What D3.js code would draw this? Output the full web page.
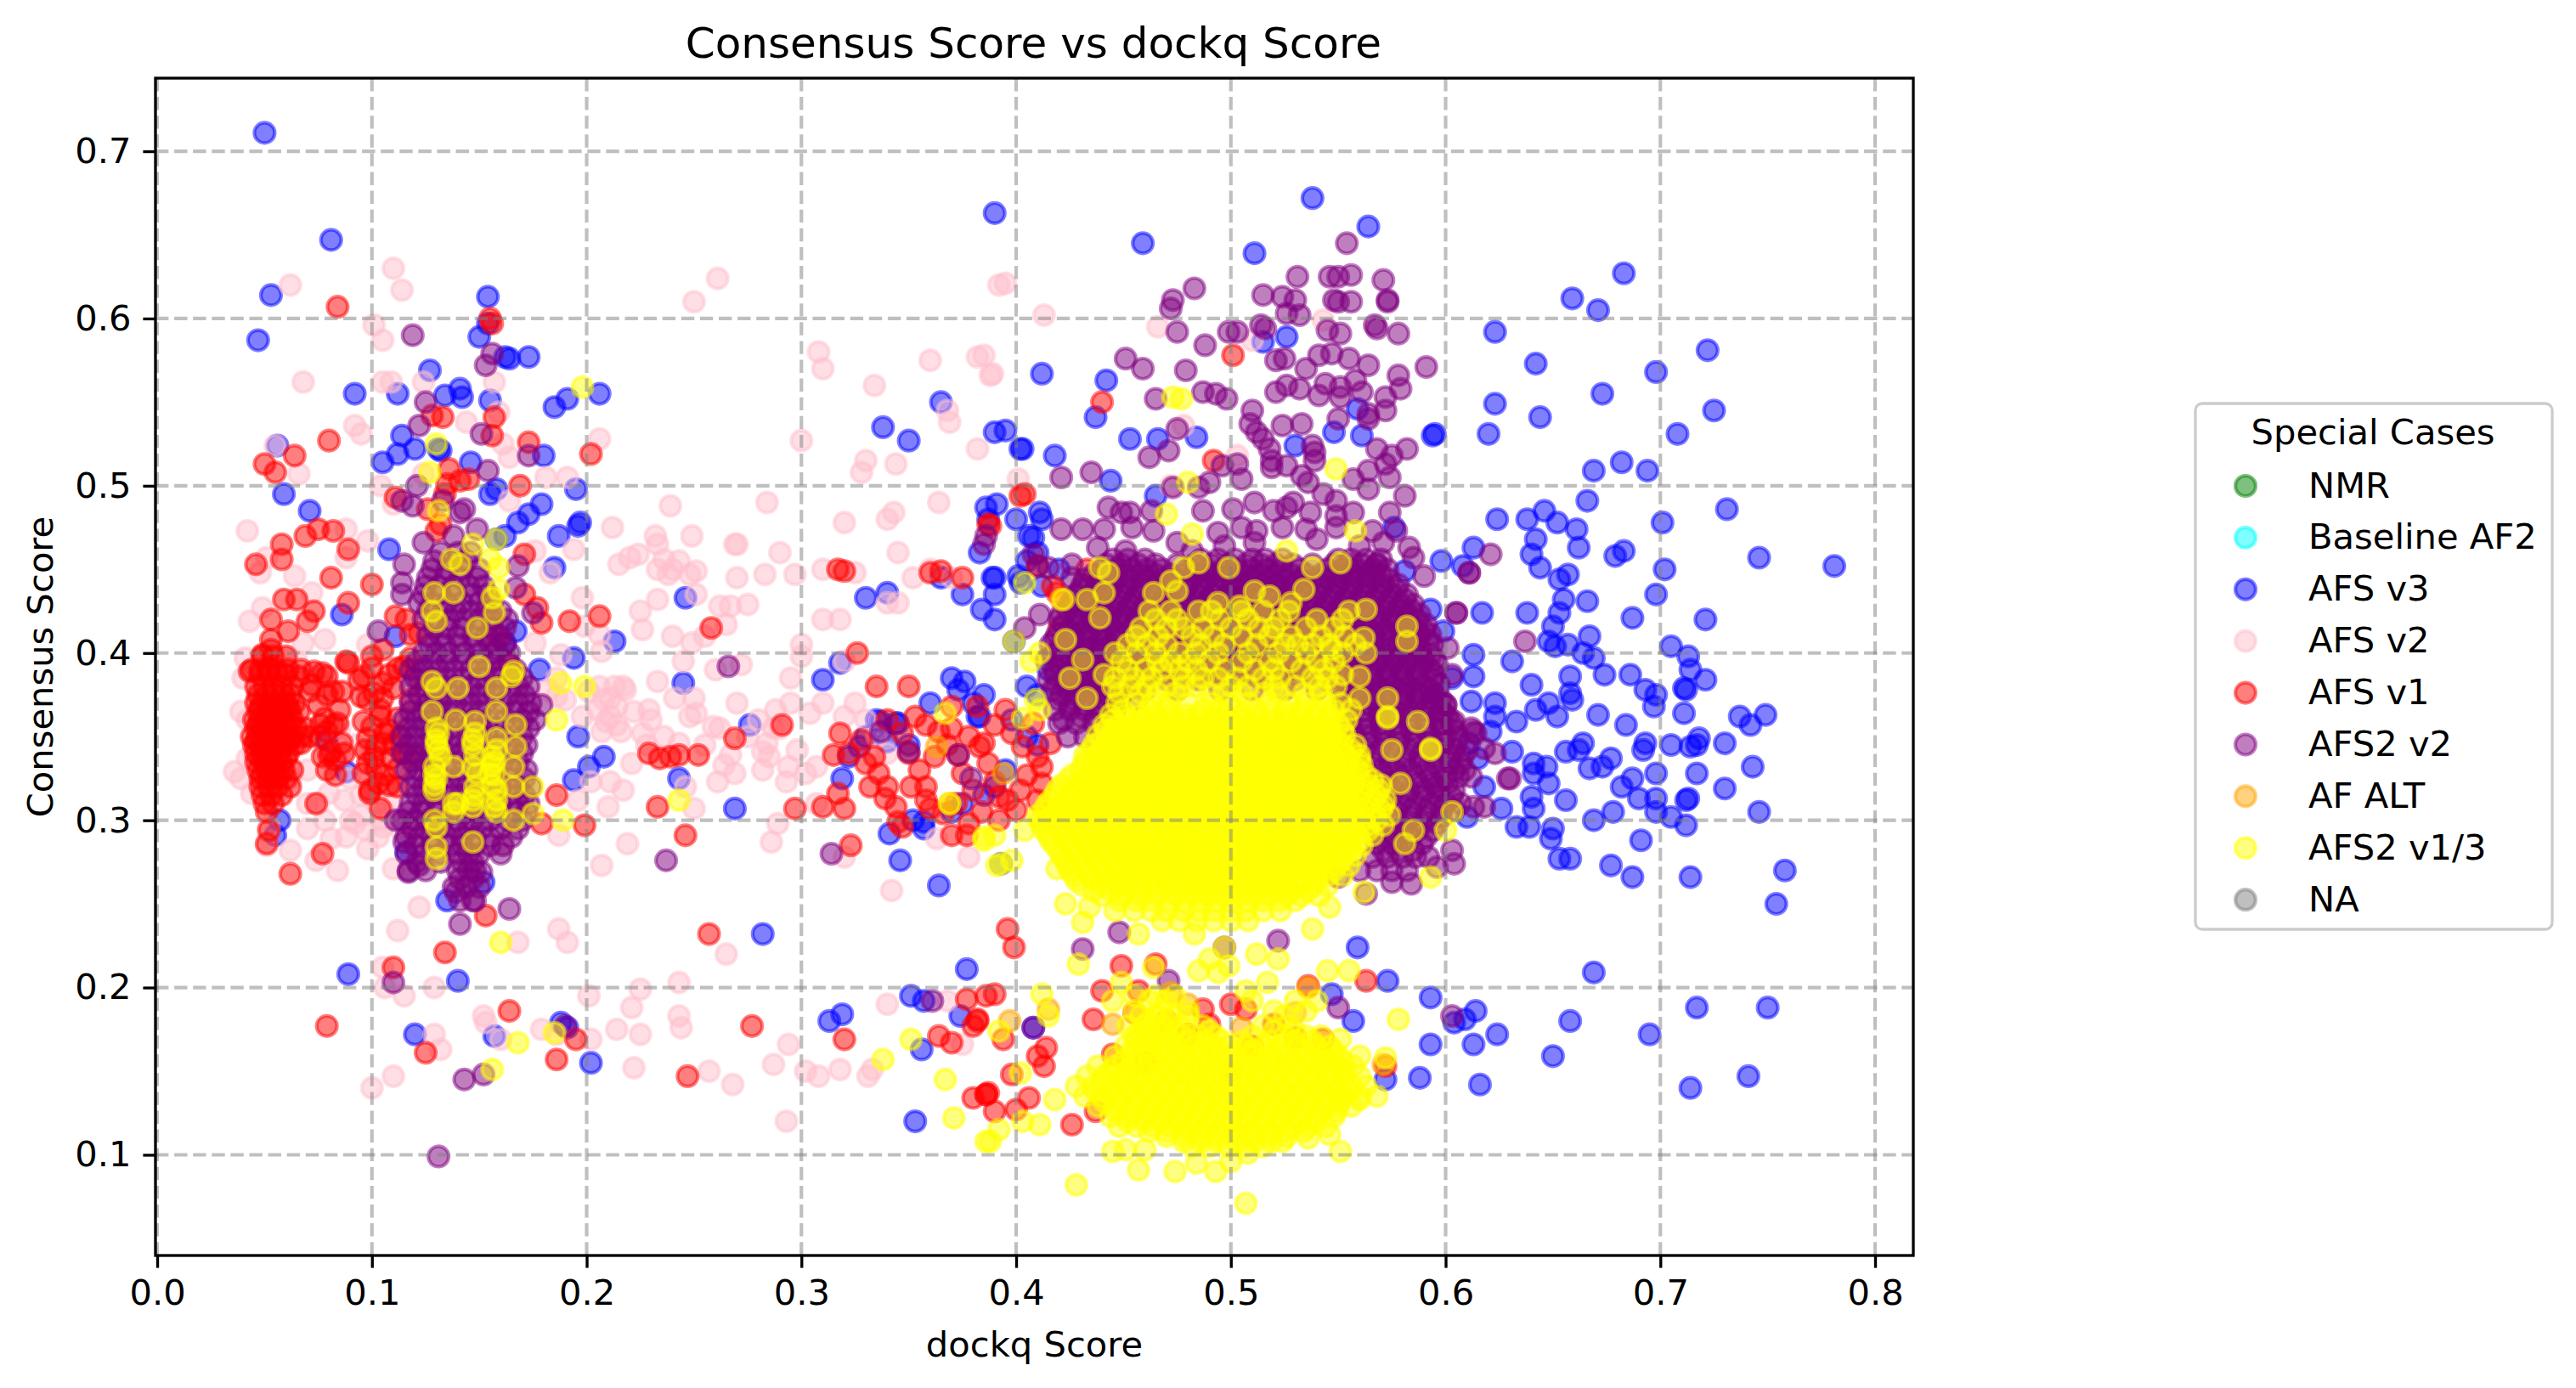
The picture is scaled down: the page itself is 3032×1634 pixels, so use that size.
<!DOCTYPE html>
<html><head><meta charset="utf-8">
<script src="https://cdn.jsdelivr.net/npm/d3@7/dist/d3.min.js"></script>
<style>html,body{margin:0;background:#fff}svg{display:block;font-family:"DejaVu Sans",sans-serif}</style>
</head><body><svg id="c" width="3032" height="1634"></svg>
<script>
// values are in thousandths. *Pts: flat x,y,x,y... ; *Rows: [y, x, x, x...] for the dense blobs
const categories = ["NMR","Baseline AF2","AFS v3","AFS v2","AFS v1","AFS2 v2","AF ALT","AFS2 v1/3","NA"];
const xTicks = [0,.1,.2,.3,.4,.5,.6,.7,.8];
const yTicks = [.1,.2,.3,.4,.5,.6,.7];
const nmrPts = [], baselinePts = [], naPts = [];
const afsV3Pts = [50,711,81,647,53,614,47,587,154,613,150,589,154,597,162,577,164,576,173,577,127,569,92,555,112,555,134,554,141,558,142,553,155,551,185,547,191,552,206,555,56,524,132,521,146,514,105,514,112,519,120,522,114,530,158,498,155,495,180,518,195,498,59,495,71,485,179,489,173,483,168,478,187,470,196,476,197,478,162,470,158,468,131,522,108,462,185,451,86,423,246,433,167,413,162,406,213,407,194,397,178,390,245,382,111,410,
57,300,55,291,89,208,140,204,120,172,157,171,188,179,191,176,202,155,135,252,152,263,116,281,282,232,377,211,351,195,357,192,374,183,313,180,319,184,356,163,353,120,364,261,346,276,341,292,352,300,357,299,243,325,269,307,196,350,194,324,201,332,208,338,276,357,337,359,344,358,322,338,327,344,319,325,383,362,88,329,79,348,
390,663,459,645,511,639,538,672,564,655,683,627,659,612,671,605,623,592,515,586,526,589,722,581,642,573,698,568,412,567,442,563,673,555,623,549,644,541,725,545,559,546,437,541,395,533,620,531,595,531,594,530,708,531,548,532,561,530,484,529,466,528,453,528,530,524,403,522,418,518,444,503,669,509,682,514,694,509,666,491,731,486,624,480,638,480,646,485,652,478,661,474,701,478,642,468,391,489,411,484,400,480,465,494,408,469,576,475,613,463,598,455,640,459,662,463,683,461,679,458,746,457,781,452,644,451,581,449,608,452,702,450,657,447,653,444,698,435,666,431,655,432,389,445,401,446,687,421,638,424,653,424,593,426,617,424,721,420,650,416,599,413,667,410,648,407,651,404,657,405,705,404,713,398,664,400,669,397,631,395,613,399,603,385,613,386,714,390,658,386,674,387,640,381,721,384,686,387,693,378,711,379,712,378,698,375,658,376,659,372,596,375,612,371,623,370,648,370,671,363,697,368,711,364,652,362,684,357,737,362,749,363,742,357,633,359,642,366,
664,346,662,342,656,341,667,331,673,332,677,337,692,342,693,346,705,345,714,344,717,345,718,349,730,346,743,332,717,328,698,328,687,325,682,320,730,319,690,313,698,313,712,312,713,313,678,305,669,300,698,305,705,302,712,297,746,305,691,288,647,332,648,322,656,312,641,334,641,328,640,314,641,307,633,296,639,296,650,295,649,289,653,277,658,277,677,273,687,266,714,266,758,270,754,250,626,307,618,320,631,341,623,362,611,346,621,353,615,337,610,302,669,209,573,204,593,194,614,186,609,181,604,179,624,172,658,180,695,172,717,188,750,188,593,166,613,166,650,159,588,146,616,142,741,147,714,140,559,224,547,196,557,180,572,145,408,176,
310,384,318,394,330,350,335,360,340,347,345,358,350,345,360,370,370,385,373,378,376,383,380,370,382,362,385,375,390,420,390,435,375,435,365,445,387,480,383,460,384,426,357,295,370,305,375,310,385,315,390,320,395,330,398,360,405,380,410,375,415,390,405,350,410,345,412,440,410,460,420,450,390,445,330,433,340,436,338,535,350,527,365,550,390,532,386,487,402,522,412,480,402,442,406,470,405,455,399,407,425,385,393,274];
const afsV2Pts = [62,620,110,630,114,617,101,596,105,587,261,624,250,610,68,562,105,562,109,562,124,562,157,562,92,536,95,531,144,538,159,544,206,528,66,507,104,500,124,507,181,505,191,505,164,517,161,525,55,524,239,488,212,475,249,470,42,473,88,474,98,467,110,489,269,465,233,465,224,459,236,456,215,453,233,450,248,447,251,449,238,447,194,462,176,461,183,448,51,457,48,448,64,446,88,457,198,433,233,432,251,435,267,428,164,491,49,427,43,419,72,436,78,408,226,414,199,416,206,411,176,406,207,401,249,406,188,399,68,406,98,405,41,397,60,397,233,383,206,380,213,380,217,380,201,377,186,374,211,373,241,373,250,373,
39,365,36,329,42,337,39,325,44,316,70,310,80,316,87,312,92,298,97,294,103,290,95,303,105,296,81,289,51,285,62,282,74,276,84,270,110,271,52,296,122,248,112,234,187,235,191,227,168,227,265,220,105,212,106,200,115,195,129,200,201,195,225,199,243,203,221,188,243,183,244,176,214,175,225,172,152,183,153,179,129,172,132,163,160,169,179,175,186,172,202,169,222,152,110,147,100,140,257,150,268,142,287,154,294,166,302,150,308,147,318,151,331,147,333,151,340,190,293,120,368,192,375,166,342,258,378,278,320,278,286,287,289,298,363,289,207,273,219,286,187,291,161,286,250,307,246,320,210,308,217,318,196,312,202,323,211,323,221,334,209,359,211,362,214,357,207,353,216,353,229,366,243,346,251,364,262,355,264,333,267,339,269,328,261,323,282,341,284,346,282,330,294,332,293,323,302,328,307,332,307,310,320,362,304,364,287,355,259,356,288,366,
360,575,382,577,388,566,392,620,413,602,310,570,308,580,334,560,368,545,369,538,330,515,344,513,328,508,300,527,364,490,340,480,320,478,343,484,345,460,340,430,345,430,370,445,360,450,352,445,284,490,270,465,283,447,270,445,297,447,290,460,275,429,310,450,325,448,300,405,295,385,300,398,272,393,262,428,265,417,310,420,318,420,320,395,325,370,330,360,335,350,340,340,240,450,243,455,232,470,220,457,255,410,225,425,240,410,245,395,260,390,270,370,280,360,290,355,295,370,310,370,
46,372,40,385,42,360,45,340,50,320,85,340,90,325,75,310,100,320,110,310,118,300,102,310,108,320,90,300,395,621,466,595,543,599,385,578,389,567,382,522,478,536,401,504,472,500,503,518,510,587,
208,372,214,368,222,365,230,360,205,366,198,362,190,372,218,378,226,352,236,350,228,345,186,385,182,378,275,350,285,338,248,362,255,345,298,342,65,395,72,388,80,380,88,395,98,385,112,390,70,330,85,355,92,345,100,340,95,315,106,305,113,295,88,290,98,283,104,300,62,325,70,295,78,300];
const afsV1Pts = [84,607,155,600,156,597,133,541,128,542,157,541,156,530,173,526,80,527,202,519,64,518,50,513,55,508,136,510,145,504,141,503,135,501,169,500,111,493,75,474,69,470,82,473,89,462,58,465,58,456,46,453,81,445,100,441,171,459,171,435,177,427,179,418,192,419,206,422,258,415,59,432,65,432,89,430,73,425,70,419,61,413,53,420,53,408,53,402,49,399,111,422,116,420,118,411,122,412,158,410,164,393,105,402,100,398,89,394,43,389,52,391,66,386,73,389,79,386,96,386,105,382,112,391,118,397,71,377,79,375,86,377,95,374,105,373,134,495,126,486,132,477,130,473,
52,294,51,286,62,268,77,280,74,310,99,316,104,307,186,315,179,298,199,297,233,308,246,291,229,340,234,337,239,338,243,339,252,339,269,349,291,357,297,307,310,308,320,307,317,316,315,339,323,285,336,328,332,320,339,313,345,299,347,296,351,320,358,320,360,307,370,291,377,291,257,232,134,221,153,243,110,212,125,161,164,186,79,177,195,169,186,157,247,147,277,177,320,169,377,193,380,177,364,171,370,167,382,181,386,195,380,134,386,136,
76,357,82,357,81,341,77,338,67,346,62,348,396,235,399,224,449,213,465,214,440,198,563,204,390,196,382,180,394,169,414,164,410,159,413,153,398,148,386,136,387,137,406,134,390,126,400,127,426,118,436,181,572,153,437,126,457,198,487,187,536,201,507,187,543,169,490,178,440,550,501,578,492,515,404,495,387,477,419,436,410,452,433,450,388,476,402,494,417,440,420,415,360,448,350,380,335,380,326,400,317,450,320,449,365,449,375,445,322,340,328,348,318,352,334,338,340,360,
353,362,358,357,364,353,370,355,378,350,383,344,373,339,387,334,390,323,392,314,396,312,385,346,390,357,398,352,403,344,410,338,405,327,412,332,402,318,410,312,368,345,362,338,355,330,350,340,347,352,375,328,380,318,372,310,366,304,358,312,384,305,392,300,400,306,378,298,395,366,382,368,370,368,412,322,416,346,408,358,340,320,344,308,330,334,
77,388,88,395,100,391,108,387,115,392,122,384,72,381,82,377,94,384,101,376,110,379,118,372,75,369,85,366,98,372,104,366,112,361,78,361,84,358,96,359,100,356,104,362,108,354,113,350,79,353,98,349,102,344,106,352,110,345,76,350,86,346,97,342,101,338,105,346,109,337,115,340,80,339,83,336,87,340,98,334,102,331,106,327,112,331,120,338,79,330,83,327,96,328,103,322,108,321,112,320,99,318,
455,185,470,180,480,172,500,190,520,178,530,170,445,160,460,155,510,165,500,150];
const afsV1Rows = [[398,49,54,60],[390,44,48,52,56,61,67],[387,48,52,56,60],[380,46,50,54,58,63],[375,47,51,55,59,62],[370,46,49,53,56,60,64],[367,48,52,57,61],[365,47,51,55,58,62,66],[360,45,48,52,55,59,63],[357,47,50,54,58,62],[355,46,49,53,56,60,65,69],[350,44,47,51,54,58,62,67,71],[347,46,50,53,57,61],[345,45,48,52,55,59,64],[340,46,49,53,57,61],[337,48,52,56,60],[335,46,50,54,58],[330,47,51,55,59,63],[327,49,53,57],[325,48,52,56,60],[320,48,52,56,62],[315,49,53,58],[310,50,54],[305,51]];
const afs2V2Pts = [554,645,531,625,546,625,550,625,556,626,571,623,483,618,473,611,472,606,515,614,524,613,530,611,548,611,550,610,556,610,573,611,573,610,526,603,532,602,475,592,499,592,503,592,514,596,516,594,545,593,551,591,567,596,568,594,578,591,488,584,451,576,459,570,479,569,521,575,525,576,541,578,547,579,555,576,564,572,535,570,591,571,578,566,579,558,487,556,493,555,498,552,465,552,521,556,526,560,532,558,544,561,551,559,558,563,561,556,541,554,551,553,572,553,572,545,510,545,509,537,550,540,564,540,564,543,524,536,533,537,475,534,512,532,515,528,518,522,519,515,471,521,462,517,435,508,421,505,538,524,539,520,539,515,568,522,582,522,575,518,572,513,574,505,564,509,496,512,503,513,505,504,519,511,526,512,533,506,536,502,557,504,490,502,485,499,473,499,564,498,581,494,543,495,549,491,529,490,511,490,501,486,443,487,449,484,453,484,487,485,463,485,520,485,526,487,574,484,557,484,549,482,537,484,421,474,431,474,441,474,454,475,464,473,494,472,505,475,512,473,524,475,535,474,549,475,566,473,577,473,438,463,451,461,475,466,482,461,497,464,511,466,540,468,560,464,571,466,583,463,585,457,408,459,415,451,410,452,426,453,426,445,590,446,611,448,621,459,568,453,
596,272,604,274,584,262,575,263,563,256,550,266,448,233,431,223,522,228,497,224,550,188,471,204,603,183,408,176,630,325,623,340,614,352,618,308,596,320,637,407,611,448,605,424,613,353,618,343,629,325,613,308,603,282,601,403,605,424,603,387,600,369,604,359,599,364,612,355,411,423,422,360,386,470,385,465,404,415,
119,590,156,579,153,572,125,550,122,536,151,531,173,518,154,509,121,500,114,491,119,488,133,491,143,486,141,484,149,474,138,470,124,466,115,453,114,442,114,435,168,452,167,439,175,424,103,413,158,402,266,392,173,380,179,369,111,300,115,287,122,273,117,269,139,257,147,252,141,238,164,247,151,269,161,285,143,145,152,148,190,177,237,276,314,280,110,203,131,99,361,192,350,341,337,353,379,325,373,339];
const afs2V2Rows = [[456,445,452,460,486,494,502,510,516,524,550,556,563,570],[450,440,447,454,461,468,480,488,496,503,510,517,524,532,545,552,559,566,573],[444,432,440,447,454,461,468,475,482,489,497,504,511,518,525,532,539,546,553,560,567,574],[438,430,437,444,451,458,465,472,479,486,493,500,507,514,521,528,535,542,549,556,563,570,577],[432,426,434,441,448,455,462,469,476,483,490,497,504,511,518,525,532,539,546,553,560,567,574,581],[426,424,431,438,445,452,459,466,473,480,487,494,501,508,515,522,529,536,543,550,557,564,571,578,584],[420,420,428,435,442,449,456,463,470,477,484,491,498,505,512,519,526,533,540,547,554,561,568,575,582,587],[414,425,432,439,446,453,460,467,474,481,488,495,502,509,516,523,530,537,544,551,558,565,572,579,586,590],[408,418,426,433,440,447,454,461,468,475,482,489,496,503,510,517,524,531,538,545,552,559,566,573,580,587,592],[402,420,427,434,441,448,455,462,469,476,483,490,497,504,511,518,525,532,539,546,553,560,567,574,581,588],[396,414,422,429,436,443,450,457,464,471,478,485,492,499,506,513,520,527,534,541,548,555,562,569,576,583,590,595],[390,418,425,432,439,446,453,460,467,474,481,488,495,502,509,516,523,530,537,544,551,558,565,572,579,586,593],[384,415,423,430,437,444,451,458,470,485,500,515,530,545,552,559,566,573,580,587,594],[378,417,424,431,438,445,452,460,475,495,510,525,540,551,558,565,572,579,586,593],[372,420,427,434,441,448,456,552,559,566,573,580,587,594,598],[366,418,425,432,439,446,555,562,569,576,583,590,597],[358,420,428,436,556,563,570,577,584,591,598,603],[350,424,432,558,565,572,579,586,593,600,606],[342,555,562,569,576,583,590,597,604,610],[334,560,567,574,581,588,595,602,607],[326,565,572,579,586,593,600,606,612],[318,562,569,576,583,590,597,604],[310,565,572,579,586,593,600,607],[302,570,577,584,591,598],[294,566,573,580,587,594],[286,568,575,582,589],[278,566,573,580,586,592],[270,560,568,575,582],
[453,442,449,457,465,475,483,491,499,507,514,521,529,538,548,554,561,568],[447,436,444,451,458,465,472,478,485,492,500,507,514,521,528,535,542,549,556,563,570],[441,431,438,445,452,459,466,473,480,487,494,501,508,515,522,529,536,543,550,557,564,571,578],[435,428,435,442,449,456,463,470,477,484,491,498,505,512,519,526,533,540,547,554,561,568,575,582],[429,425,432,439,446,453,460,467,474,481,488,495,502,509,516,523,530,537,544,551,558,565,572,579,585],[423,421,428,435,442,449,456,463,470,477,484,491,498,505,512,519,526,533,540,547,554,561,568,575,582,588],[417,422,430,437,444,451,458,465,472,479,486,493,500,507,514,521,528,535,542,549,556,563,570,577,584,591],[411,419,427,434,441,448,455,462,469,476,483,490,497,504,511,518,525,532,539,546,553,560,567,574,581,588,593],[405,416,424,431,438,445,452,459,466,473,480,487,494,501,508,515,522,529,536,543,550,557,564,571,578,585,594],[399,417,425,432,439,446,453,460,467,474,481,488,495,502,509,516,523,530,537,544,551,558,565,572,579,586,593],[393,421,428,435,442,449,456,463,470,477,484,491,498,505,512,519,526,533,540,547,554,561,568,575,582,589,596],[387,418,426,433,440,447,454,461,468,475,482,489,496,503,510,517,524,531,538,545,552,559,566,573,580,587,595],[381,419,427,434,441,448,455,555,562,569,576,583,590,597],[375,421,428,435,442,449,553,560,567,574,581,588,595],[369,425,432,439,446,558,565,572,579,586,593,600],[362,430,437,555,562,569,576,583,590,597,601],[354,556,563,570,577,584,591,598,604],[346,557,564,571,578,585,592,599,605],[338,560,567,574,581,588,595,602,608],[330,563,570,577,584,591,598,604,609],[322,566,573,580,587,594,601],[314,568,575,582,589,596,603],[306,570,577,584,591,598,604],[298,568,575,582,589,596],[290,570,577,584,591],[282,571,578,585],
[460,132,140,146],[450,128,135,142,150],[440,125,131,138,145,152],[430,122,128,135,142,150,156],[420,124,130,136,143,150,156,163],[410,126,132,140,147,153,160],[400,124,130,136,143,150,157,164],[390,118,124,131,138,146,153,160,167],[380,118,125,132,138,146,153,160,168],[370,118,126,132,139,146,153,161,168,174],[360,115,121,127,133,140,147,154,162,170,176],[350,114,120,127,133,140,147,154,162,170],[340,114,120,127,134,141,148,155,163,170],[330,116,122,128,135,142,150,158,165,172],[320,118,124,130,137,144,152,160,168,174],[310,118,124,131,138,145,152,160,168,173],[300,114,120,126,133,140,147,155,163,170],[290,116,122,128,135,142,148,155,165],[280,116,124,132,140,145,150,160],[270,117,125,140,145,148],[260,138,144,150],[252,141,148],
[455,129,137,144],[445,126,134,141,149],[435,124,132,139,147,154],[425,126,133,139,146,153,160],[415,129,135,142,149,156,162],[405,127,134,141,148,155,162],[395,121,128,135,142,149,156,163],[385,120,128,135,142,150,157,164,170],[375,122,129,136,143,150,157,164,171],[365,118,124,130,136,143,150,158,166,173],[355,117,124,130,137,144,151,158,166,173],[345,117,124,130,137,144,151,159,167,172],[335,119,125,131,138,146,154,161,168],[325,121,127,134,141,148,156,164,171],[315,121,128,134,141,149,156,164,171],[305,117,123,130,137,144,151,159,167,172],[295,119,125,132,139,145,151,160,168],[285,120,128,136,142,148,155],[275,121,132,142,147],[265,141,147]];
const afAltPts = [363,344,394,328,415,187,397,180,536,200,571,154,472,197,421,432,369,310,480,190,445,178,505,176,530,185];
const afs2V13Pts = [439,451,443,448,478,451,485,454,499,451,526,461,538,451,551,454,558,473,482,471,470,483,480,502,549,510,473,553,494,430,504,428,472,443,475,437,464,436,534,438,518,434,511,437,528,430,563,426,441,436,433,432,422,432,439,421,423,408,431,396,411,400,407,395,399,407,425,385,404,442,582,416,582,407,562,409,563,400,560,386,560,373,573,373,573,362,554,360,587,359,552,387,547,402,433,373,441,387,409,372,411,366,403,361,593,343,573,361,575,342,593,342,579,322,585,294,600,294,603,305,581,286,593,266,562,257,546,248,538,235,512,220,522,217,497,224,483,232,457,232,431,239,423,250,429,214,490,217,485,210,494,209,499,213,545,210,555,210,578,181,517,203,507,198,464,212,449,203,412,196,415,183,392,174,402,149,418,133,411,118,392,115,388,108,403,120,445,102,451,103,460,103,457,91,474,90,484,95,493,90,428,82,507,71,551,102,546,112,536,110,524,108,508,101,500,96,560,133,568,135,572,158,560,159,551,169,385,290,404,294,398,276,419,271,434,248,446,246,393,274,390,291,
351,169,338,157,367,145,371,122,386,108,385,288,391,273,160,227,168,167,185,173,156,151,243,312,189,300,175,304,186,360,198,559,130,525,127,508,166,389,188,382,199,380,369,310,367,364,477,552,
131,485,147,465,158,468,137,456,141,453,155,456,159,451,129,436,138,436,156,433,159,438,128,425,130,419,157,424,149,415,150,392,128,383,130,379,140,379,158,379,165,386,128,365,139,360,148,359,158,365,167,357,130,348,147,348,158,349,167,344,129,332,138,332,147,332,156,333,166,332,129,321,148,315,156,321,166,320,175,320,138,305,129,300,158,305,166,300,130,284,130,277,147,287,147,312,138,310,130,345,131,352,129,318,130,325,157,335,156,338,155,328,158,342,147,345,148,352,131,342,130,355,129,327,132,338,148,339,149,328,157,327,158,318,148,320,147,308,140,310,158,312,157,308,130,296];
const afs2V13Rows = [[252,448,456,463,472,478,487,494,500,508,515,523,530],[258,436,444,451,458,466,473,480,486,493,500,507,513,521,528,536],[264,428,436,444,450,458,465,471,479,485,492,499,505,512,519,526,533,540],[270,425,433,440,447,454,461,468,474,481,488,495,501,508,515,522,528,535,542,548],[276,423,430,437,444,451,457,464,471,478,484,491,498,505,511,518,525,532,538,545,552],[282,420,427,434,441,448,455,461,468,475,482,488,495,502,508,515,522,529,535,542,549,556],[288,416,424,431,438,445,451,458,465,472,478,485,492,499,505,512,519,526,532,539,546,553,560],[294,413,421,428,435,442,448,455,462,469,475,482,489,496,502,509,516,523,529,536,543,550,557,564],[300,411,418,425,432,439,446,453,459,466,473,480,486,493,500,507,513,520,527,534,540,547,554,561,568],[306,413,420,427,434,441,448,454,461,468,475,481,488,495,502,508,515,522,529,535,542,549,556,562,570],[312,416,423,430,437,444,451,457,464,471,478,484,491,498,505,511,518,525,532,538,545,552,559,566,572],[318,419,427,434,441,447,454,461,468,474,481,488,495,501,508,515,522,528,535,542,549,555,562,569],[324,424,431,438,445,452,458,465,472,479,485,492,499,506,512,519,526,533,539,546,553,560,566],[330,430,437,444,451,457,464,471,478,484,491,498,505,511,518,525,532,538,545,552,559],[336,433,440,447,454,461,467,474,481,488,494,501,508,515,521,528,535,542,548,555,560],[342,435,442,449,456,463,470,476,483,490,497,503,510,517,524,530,537,544,551,556],[348,440,447,454,461,468,474,481,488,494,501,508,515,521,528,535,542,549],[354,442,449,456,463,470,477,484,490,497,504,511,517,524,531,538,545,552],[360,445,452,459,466,473,480,486,493,499,506,513,520,526,533,540,547],
[240,468,476,484,492,500,508],[246,455,463,470,478,485,492,500,507,515,523],[255,440,449,458,466,475,483,490,497,504,511,518,526,533,541],[261,431,440,448,455,463,470,477,483,490,497,504,510,517,524,531,538,545],[267,427,435,442,449,457,464,470,477,484,491,497,504,511,518,525,531,538,545,552],[273,424,432,439,446,453,460,467,474,481,487,494,501,508,514,521,528,535,542,549,555],[279,421,429,436,443,450,457,463,470,477,484,490,497,504,511,517,524,531,538,544,551,558],[285,418,426,433,440,447,454,460,467,474,481,487,494,501,508,514,521,528,535,541,548,555,561],[291,415,423,430,437,444,451,457,464,471,478,484,491,498,505,511,518,525,532,538,545,552,559,566],[297,412,420,427,434,441,449,456,462,469,476,483,489,496,503,510,516,523,530,537,543,550,557,564,571],[303,410,417,424,431,438,445,452,458,465,472,479,485,492,499,506,512,519,526,533,539,546,553,560,567,574],[309,414,421,428,435,442,449,456,462,469,476,483,489,496,503,510,516,523,530,537,543,550,557,564,571],[315,418,425,432,439,446,453,459,466,473,480,486,493,500,507,513,520,527,534,540,547,554,561,568],[321,421,429,436,443,449,456,463,470,476,483,490,497,503,510,517,524,530,537,544,551,557,564,570],[327,426,434,441,448,455,461,468,475,482,488,495,502,509,515,522,529,536,542,549,556,563],[333,431,439,446,453,460,466,473,480,487,493,500,507,514,520,527,534,541,547,554,561],[339,432,438,445,452,459,465,472,479,486,492,499,506,513,519,526,533,540,546,553,560],[345,436,443,450,457,464,471,478,484,491,498,505,511,518,525,532,538,545,552,558],[351,438,445,452,459,466,473,480,486,493,500,506,513,520,527,533,540,547,553],[357,441,448,455,462,469,476,483,489,496,503,510,516,523,530,537,544,550],[363,444,451,458,465,472,479,485,492,498,505,512,519,525,532,539,546],
[366,450,462,470,487,495,503,512,525,533,540,548,556],[376,448,458,466,474,490,497,505,516,522,534,542],[385,446,455,463,478,487,494,503,515,523,538,545],[395,449,466,472,480,490,505,518,528,540,548],[405,452,461,470,486,497,512,525,531,538,546,558],[415,458,470,478,487,500,513,520,535,548],[425,462,472,485,491,505,515,527,555],
[370,447,456,463,471,480,491,499,508,518,527,535,544,551],[380,445,453,461,470,478,484,500,508,520,530,541,549],[390,452,460,468,476,484,497,511,520,533,543],[400,446,456,465,476,484,494,508,522,535,552],[410,456,466,482,492,505,518,528,542,553],[420,465,475,495,508,523,540,552],
[108,478,486,494,503,511,519],[114,462,470,478,486,494,502,510,518,526,534],[120,452,460,468,476,484,492,500,508,516,524,532,540],[126,446,454,462,470,478,486,494,502,510,518,526,534,542,549],[132,441,449,457,465,473,481,489,497,505,513,521,529,537,545,551],[138,437,445,453,461,469,477,485,493,501,509,517,525,533,541,549,555],[144,440,448,456,464,472,480,488,496,504,512,520,528,536,544,552],[150,444,452,460,468,476,484,492,500,508,516,524,532,540,548,553],[156,450,458,466,474,482,490,498,506,514,522,530,538,546,552],[162,454,462,470,478,486,494,502,510,518,526,534,542,548],[168,456,464,472,480,488,496,505,518,530,538],[174,458,466,474,490,520,530],[180,462,470],[186,455,468,480,520,535],[192,445,462,470,510,530,540],
[105,482,490,499,507,515],[111,470,478,486,494,502,510,518,526],[117,448,456,464,472,480,488,496,504,512,520,528,536,544],[123,444,452,460,468,476,484,492,500,508,516,524,532,540,548],[129,438,446,454,462,470,478,486,494,502,510,518,526,534,542,550,556],[135,432,440,448,456,464,472,480,488,496,504,512,520,528,536,544,552,560],[141,428,436,444,452,460,468,476,484,492,500,508,516,524,532,540,548,556,563],[147,433,441,449,457,465,473,481,489,497,505,513,521,529,537,545,553,560],[153,438,446,454,462,470,478,486,494,502,510,518,526,534,542,550,557],[159,446,454,462,470,478,486,494,502,510,518,526,534,542,550],[165,451,459,467,475,483,491,499,507,515,523,531,539,546],[171,455,462,469,477,485,493,510,525,535,542],[177,452,460,468,476,487,515,527],[183,458,465,472,480,525],[195,455,465,474]];
const colors = ["#008000","#00ffff","#0000ff","#ffc0cb","#ff0000","#800080","#ffa500","#ffff00","#808080"];

function points(flat, rows){
  const out=[];
  for(let i=0;i<flat.length;i+=2) out.push([flat[i]/1000,flat[i+1]/1000]);
  (rows||[]).forEach(r=>r.slice(1).forEach(x=>out.push([x/1000,r[0]/1000])));
  return out;
}
const seriesData = [points(nmrPts),points(baselinePts),points(afsV3Pts),points(afsV2Pts),points(afsV1Pts,afsV1Rows),points(afs2V2Pts,afs2V2Rows),points(afAltPts),points(afs2V13Pts,afs2V13Rows),points(naPts)];

const L=183,R=2252,T=92,B=1478;
const FS=41.67, LW=3.33;
const x=d3.scaleLinear().domain([-0.0008,0.8178]).range([L,R]);
const y=d3.scaleLinear().domain([0.0398,0.7437]).range([B,T]);
const svg=d3.select("#c");

// points
const R_MARK=12, SW=4.17;
function mark(sel,c){sel.attr("r",R_MARK).attr("fill",c).attr("fill-opacity",.5).attr("stroke",c).attr("stroke-opacity",.5).attr("stroke-width",SW);}
seriesData.forEach((d,i)=>{
  svg.append("g").selectAll("circle").data(d).join("circle")
    .attr("cx",p=>x(p[0])).attr("cy",p=>y(p[1])).call(mark,colors[i]);
});

// grid (above the points)
const grid=svg.append("g").attr("stroke","#808080").attr("stroke-opacity",.5).attr("stroke-width",4.17).attr("stroke-dasharray","15.4,6.7");
grid.selectAll("line.v").data(xTicks).join("line").attr("class","v").attr("x1",d=>x(d)).attr("x2",d=>x(d)).attr("y1",T).attr("y2",B);
grid.selectAll("line.h").data(yTicks).join("line").attr("class","h").attr("y1",d=>y(d)).attr("y2",d=>y(d)).attr("x1",L).attr("x2",R);

// axes
const ax=svg.append("g").attr("transform",`translate(0,${B})`).call(d3.axisBottom(x).tickValues(xTicks).tickFormat(d3.format(".1f")).tickSize(14.6).tickPadding(14));
const ay=svg.append("g").attr("transform",`translate(${L},0)`).call(d3.axisLeft(y).tickValues(yTicks).tickFormat(d3.format(".1f")).tickSize(14.6).tickPadding(14));
[ax,ay].forEach(a=>{
  a.select(".domain").remove();
  a.selectAll("line").attr("stroke","#000").attr("stroke-width",LW);
  a.selectAll("text").attr("fill","#000").style("font-size",FS+"px").style("font-family",'"DejaVu Sans"');
});
svg.append("rect").attr("x",L).attr("y",T).attr("width",R-L).attr("height",B-T).attr("fill","none").attr("stroke","#000").attr("stroke-width",LW);

// titles
svg.append("text").attr("x",(L+R)/2-1).attr("y",68).attr("text-anchor","middle").style("font-size","50px").text("Consensus Score vs dockq Score");
svg.append("text").attr("x",(L+R)/2).attr("y",1597).attr("text-anchor","middle").style("font-size",FS+"px").text("dockq Score");
svg.append("text").attr("transform",`translate(62,${(T+B)/2}) rotate(-90)`).attr("text-anchor","middle").style("font-size",FS+"px").text("Consensus Score");

// legend
const lg=svg.append("g");
lg.append("rect").attr("x",2584).attr("y",475).attr("width",420).attr("height",619).attr("rx",8).attr("fill","#fff").attr("fill-opacity",.8).attr("stroke","#ccc").attr("stroke-width",3.33);
lg.append("text").attr("x",2793).attr("y",523).attr("text-anchor","middle").style("font-size",FS+"px").text("Special Cases");
categories.forEach((c,i)=>{
  const cy=572+i*60.9;
  lg.append("circle").attr("cx",2643).attr("cy",cy).call(mark,colors[i]);
  lg.append("text").attr("x",2717).attr("y",cy+13.5).style("font-size",FS+"px").text(c);
});
</script></body></html>
